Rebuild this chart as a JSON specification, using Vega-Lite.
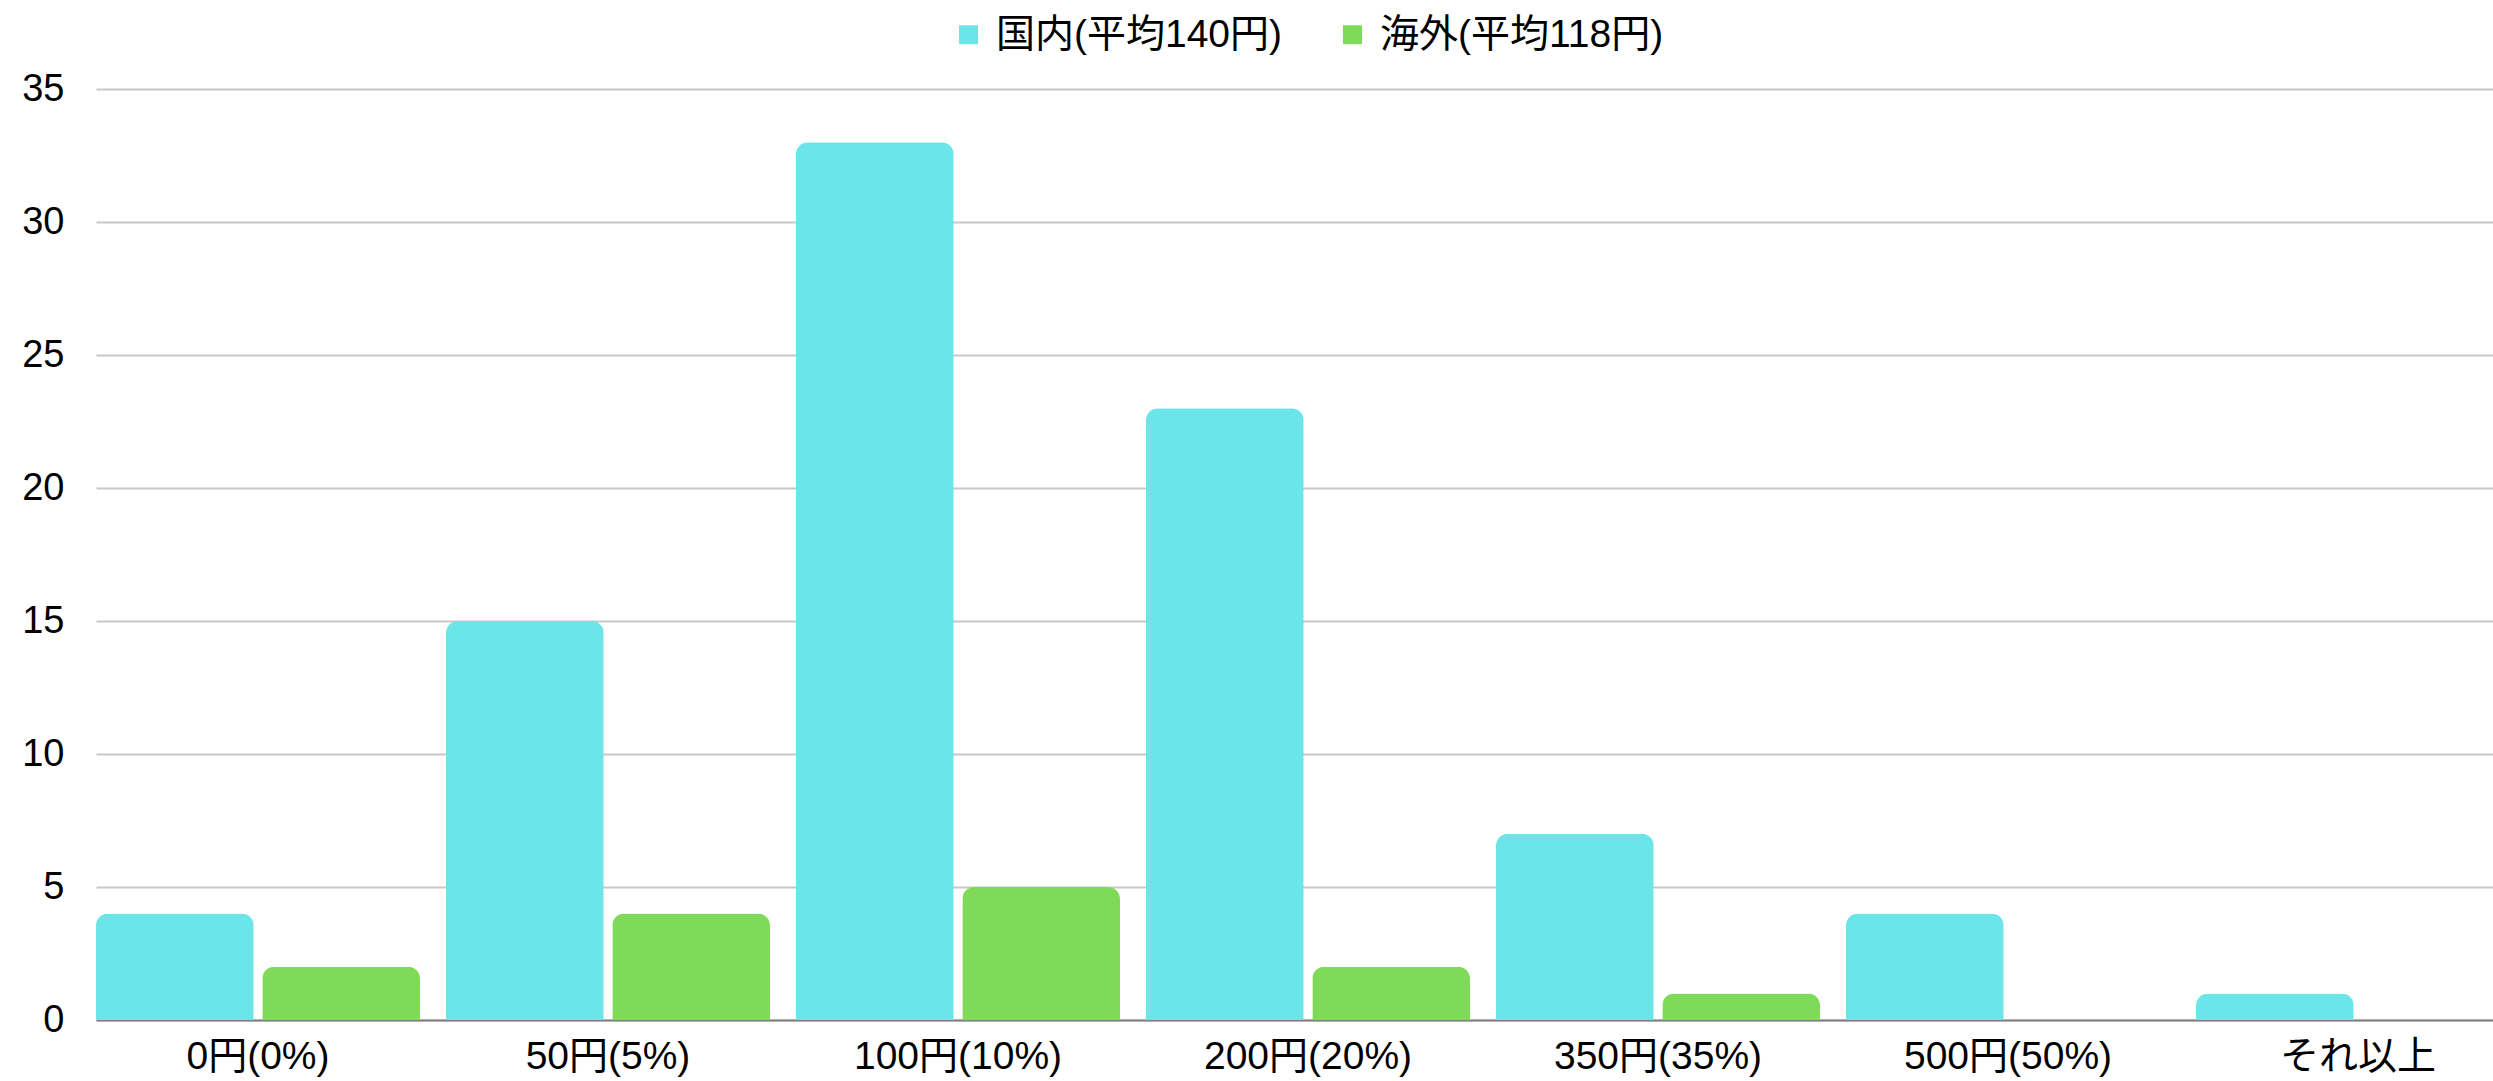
{
  "$schema": "https://vega.github.io/schema/vega-lite/v6.json",
  "autosize": {"type": "none"},
  "padding": {"left": 96, "top": 89, "right": 0, "bottom": 61},
  "width": 2397,
  "height": 931,
  "background": "#ffffff",
  "data": {
    "values": [
      {"price": "0円(0%)", "region": "国内(平均140円)", "count": 4},
      {"price": "0円(0%)", "region": "海外(平均118円)", "count": 2},
      {"price": "50円(5%)", "region": "国内(平均140円)", "count": 15},
      {"price": "50円(5%)", "region": "海外(平均118円)", "count": 4},
      {"price": "100円(10%)", "region": "国内(平均140円)", "count": 33},
      {"price": "100円(10%)", "region": "海外(平均118円)", "count": 5},
      {"price": "200円(20%)", "region": "国内(平均140円)", "count": 23},
      {"price": "200円(20%)", "region": "海外(平均118円)", "count": 2},
      {"price": "350円(35%)", "region": "国内(平均140円)", "count": 7},
      {"price": "350円(35%)", "region": "海外(平均118円)", "count": 1},
      {"price": "500円(50%)", "region": "国内(平均140円)", "count": 4},
      {"price": "500円(50%)", "region": "海外(平均118円)", "count": 0},
      {"price": "それ以上", "region": "国内(平均140円)", "count": 1},
      {"price": "それ以上", "region": "海外(平均118円)", "count": 0}
    ]
  },
  "mark": {"type": "bar", "cornerRadiusTopLeft": 12, "cornerRadiusTopRight": 12},
  "encoding": {
    "x": {
      "field": "price",
      "type": "nominal",
      "sort": null,
      "title": null,
      "scale": {"range": [0, 2424], "paddingInner": 0.0743, "paddingOuter": 0},
      "axis": {
        "labelAngle": 0,
        "labelFontSize": 39,
        "labelPadding": 17,
        "labelLimit": 0,
        "labelColor": "#000000",
        "ticks": false,
        "grid": false,
        "domainColor": "#808080",
        "domainWidth": 2,
        "labelFont": "Liberation Sans, Noto Sans CJK JP"
      }
    },
    "xOffset": {
      "field": "region",
      "type": "nominal",
      "sort": null,
      "scale": {"paddingInner": 0.0517, "paddingOuter": 0}
    },
    "y": {
      "field": "count",
      "type": "quantitative",
      "title": null,
      "scale": {"domain": [0, 35], "nice": false},
      "axis": {
        "values": [0, 5, 10, 15, 20, 25, 30, 35],
        "labelFontSize": 38,
        "labelPadding": 32,
        "labelColor": "#000000",
        "labelFont": "Liberation Sans, Noto Sans CJK JP",
        "ticks": false,
        "domain": false,
        "gridColor": "#c8c8c8",
        "gridWidth": 2
      }
    },
    "color": {
      "field": "region",
      "type": "nominal",
      "sort": null,
      "title": null,
      "scale": {"range": ["#6ce5e8", "#80da5a"]},
      "legend": {
        "orient": "none",
        "legendX": 853,
        "legendY": -74,
        "direction": "horizontal",
        "symbolType": "square",
        "symbolSize": 361,
        "symbolStrokeWidth": 0,
        "labelFontSize": 39,
        "labelFont": "Liberation Sans, Noto Sans CJK JP",
        "labelColor": "#000000",
        "labelLimit": 600,
        "labelOffset": 8,
        "columnPadding": 50
      }
    }
  },
  "config": {
    "view": {"stroke": null}
  }
}
